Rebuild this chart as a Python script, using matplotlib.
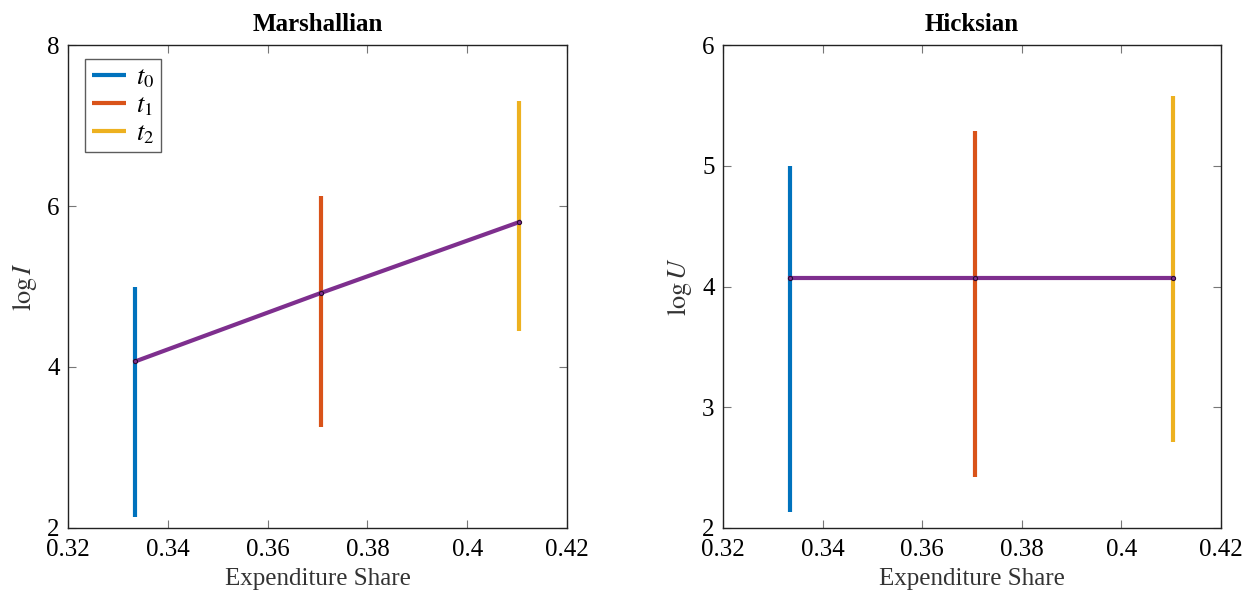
import matplotlib
matplotlib.use("Agg")
import matplotlib.pyplot as plt

# expenditure shares at the three periods
shares = [0.3335, 0.3707, 0.4104]
period_labels = ["$t_0$", "$t_1$", "$t_2$"]

# Marshallian: log income ranges per period and the fitted path
marsh_low = [2.14, 3.25, 4.45]
marsh_high = [5.00, 6.12, 7.30]
marsh_path = [4.07, 4.92, 5.80]

# Hicksian: log utility ranges per period and the fitted path
hicks_low = [2.13, 2.42, 2.71]
hicks_high = [5.00, 5.29, 5.58]
hicks_path = [4.07, 4.07, 4.07]

COLORS = ["#0072BD", "#D95319", "#EDB120"]
PATH_COLOR = "#7E2F8E"

plt.rcParams["font.family"] = ["Liberation Serif", "DejaVu Serif"]
plt.rcParams["mathtext.fontset"] = "stix"
plt.rcParams["font.size"] = 14


def draw_panel(ax, low, high, path, title, ylabel, ylim, yticks, legend=False):
    for x, lo, hi, color, label in zip(shares, low, high, COLORS, period_labels):
        ax.plot([x, x], [lo, hi], color=color, linewidth=3, label=label,
                solid_capstyle="butt")
    ax.plot(shares, path, color=PATH_COLOR, linewidth=3, marker="o",
            markersize=3, markerfacecolor=PATH_COLOR, markeredgecolor="#2a0a30",
            markeredgewidth=0.8)

    ax.set_xlim(0.32, 0.42)
    ax.set_ylim(*ylim)
    ax.set_xticks([0.32, 0.34, 0.36, 0.38, 0.40, 0.42])
    ax.set_xticklabels(["0.32", "0.34", "0.36", "0.38", "0.4", "0.42"])
    ax.set_yticks(yticks)
    ax.tick_params(direction="in", length=6, width=0.8, color="#777777",
                   top=True, right=True, labelsize=18)
    ax.tick_params(axis="x", pad=8)
    ax.tick_params(axis="y", pad=6)
    for spine in ax.spines.values():
        spine.set_linewidth(1.0)
        spine.set_color("#222222")

    ax.set_title(title, fontweight="bold", fontsize=18, pad=10)
    ax.set_xlabel("Expenditure Share", fontsize=18, labelpad=5, color="#333333")
    ax.set_ylabel(ylabel, fontsize=19, color="#333333", labelpad=6)

    if legend:
        leg = ax.legend(loc="upper left", fontsize=19, frameon=True, fancybox=False,
                        edgecolor="#333333", handlelength=1.3, borderpad=0.25,
                        labelspacing=0.15, handletextpad=0.4, borderaxespad=0,
                        bbox_to_anchor=(0.034, 0.971))
        leg.get_frame().set_linewidth(1.0)


fig = plt.figure(figsize=(12.53, 5.97), dpi=100)
ax1 = fig.add_axes([0.0543, 0.1156, 0.3982, 0.809])
ax2 = fig.add_axes([0.577, 0.1156, 0.3974, 0.809])

draw_panel(ax1, marsh_low, marsh_high, marsh_path, "Marshallian", r"$\log I$",
           (2, 8), [2, 4, 6, 8], legend=True)
draw_panel(ax2, hicks_low, hicks_high, hicks_path, "Hicksian", r"$\log U$",
           (2, 6), [2, 3, 4, 5, 6])

fig.savefig("out.png", dpi=100)
